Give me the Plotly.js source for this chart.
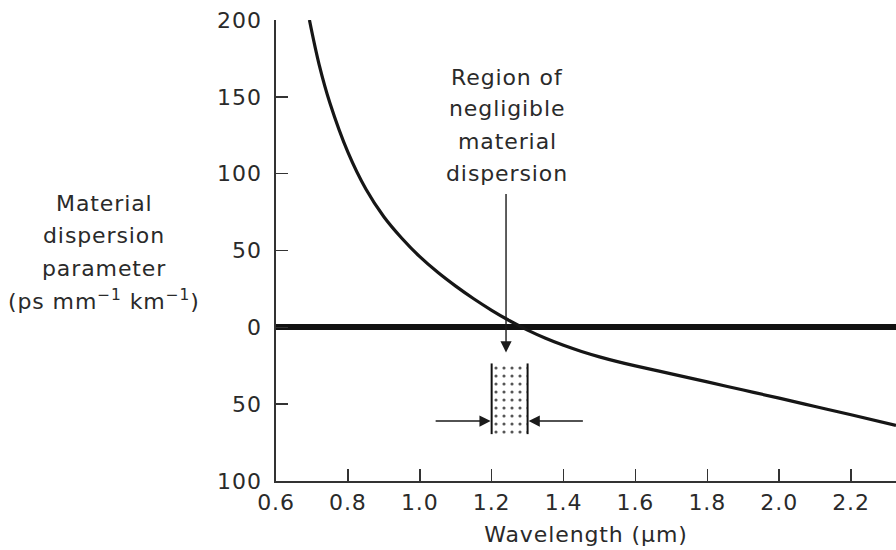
<!DOCTYPE html>
<html>
<head>
<meta charset="utf-8">
<script src="https://cdn.plot.ly/plotly-3.0.1.min.js"></script>
<style>
  html, body { margin: 0; padding: 0; background: #fff; }
  #chart { width: 896px; height: 550px; }
  text { letter-spacing: 0.9px; }
</style>
</head>
<body>
<div id="chart"></div>
<script>
// Material dispersion of silica versus wavelength
const wavelength = [0.693, 0.72, 0.75, 0.80, 0.85, 0.90, 0.95, 1.00, 1.05, 1.10, 1.15, 1.20, 1.25, 1.30, 1.35, 1.40, 1.45, 1.50, 1.55, 1.60, 1.65, 1.70, 1.80, 1.90, 2.00, 2.10, 2.20, 2.325];
const dispersion = [200, 171, 146, 114, 90, 72, 58, 46, 35.8, 26.8, 18.6, 11.1, 4.3, -1.8, -7.1, -11.7, -15.7, -19.2, -22.3, -25.1, -27.7, -30.3, -35.5, -40.8, -46.1, -51.5, -56.9, -63.8];

// Window of negligible material dispersion
const regionX = [1.2, 1.3];
const regionY = [-23.5, -69.5];
const bracketArrowFrom = [1.04, 1.458];
const bracketArrowY = -61;
const pointerX = 1.24;
const pointerFrom = 87.7;
const pointerTo = -16.4;

// Axis ticks (values below zero are labelled by magnitude)
const xTicks = [0.6, 0.8, 1.0, 1.2, 1.4, 1.6, 1.8, 2.0, 2.2];
const xTickText = ['0.6', '0.8', '1.0', '1.2', '1.4', '1.6', '1.8', '2.0', '2.2'];
const yTicks = [200, 150, 100, 50, 0, -50, -100];
const yTickText = ['200', '150', '100', '50', '0', '50', '100'];

const yTitleLines = ['Material', 'dispersion', 'parameter', '(ps mm<sup>−1</sup> km<sup>−1</sup>)'];
const noteLines = ['Region of', 'negligible', 'material', 'dispersion'];

const FONT = 'DejaVu Sans, Verdana, sans-serif';
const INK = '#2a2a2a';
const FS = 22;

const traces = [
  {
    type: 'bar',
    x: [(regionX[0] + regionX[1]) / 2],
    y: [regionY[0] - regionY[1]],
    base: [regionY[1]],
    width: [regionX[1] - regionX[0]],
    marker: {
      color: '#fff',
      line: { width: 0 },
      pattern: { shape: '.', fgcolor: '#555', bgcolor: '#fff', size: 8, solidity: 0.12 }
    },
    hoverinfo: 'skip'
  },
  {
    type: 'scatter', mode: 'lines',
    x: [regionX[0], regionX[0], null, regionX[1], regionX[1]],
    y: [regionY[0], regionY[1], null, regionY[0], regionY[1]],
    line: { color: '#111', width: 2 },
    hoverinfo: 'skip'
  },
  {
    type: 'scatter', mode: 'lines',
    x: wavelength, y: dispersion,
    line: { color: '#161616', width: 3.2, shape: 'spline', smoothing: 1 },
    hoverinfo: 'skip'
  }
];

const plotTop = 20, plotBottom = 481;
const toPaper = (py) => (plotBottom - py) / (plotBottom - plotTop);

const annotations = [];
const titleCenters = [203, 235, 268, 300];
yTitleLines.forEach((t, i) => {
  annotations.push({
    xref: 'paper', yref: 'paper', x: -0.277, y: toPaper(titleCenters[i]),
    text: t, showarrow: false, xanchor: 'center', yanchor: 'middle',
    font: { family: FONT, size: FS, color: INK }
  });
});

const noteCenters = [77, 108, 141, 173];
noteLines.forEach((t, i) => {
  annotations.push({
    xref: 'x', yref: 'paper', x: 1.244, y: toPaper(noteCenters[i]),
    text: t, showarrow: false, xanchor: 'center', yanchor: 'middle',
    font: { family: FONT, size: FS, color: INK }
  });
});

const arrowStyle = { showarrow: true, arrowhead: 2, arrowsize: 1.6, arrowwidth: 1.4, arrowcolor: '#1a1a1a',
  xref: 'x', yref: 'y', axref: 'x', ayref: 'y', text: '' };
// downward pointer
annotations.push(Object.assign({ x: pointerX, y: pointerTo, ax: pointerX, ay: pointerFrom, standoff: 0 }, arrowStyle));
// inward arrows at the edges of the window
annotations.push(Object.assign({ x: regionX[0], y: bracketArrowY, ax: bracketArrowFrom[0], ay: bracketArrowY, standoff: 1 }, arrowStyle));
annotations.push(Object.assign({ x: regionX[1], y: bracketArrowY, ax: bracketArrowFrom[1], ay: bracketArrowY, standoff: 1 }, arrowStyle));

const layout = {
  width: 896, height: 550,
  margin: { l: 276, r: 0, t: 20, b: 69, pad: 0 },
  paper_bgcolor: '#fff', plot_bgcolor: '#fff',
  showlegend: false,
  font: { family: FONT, size: FS, color: INK },
  xaxis: {
    range: [0.6, 2.325],
    tickmode: 'array', tickvals: xTicks, ticktext: xTickText,
    ticks: 'inside', ticklen: 12, tickwidth: 1.5, tickcolor: '#333',
    showline: true, linecolor: '#333', linewidth: 1.8,
    showgrid: false, zeroline: false,
    ticklabelstandoff: 1,
    tickfont: { family: FONT, size: FS, color: INK },
    title: { text: 'Wavelength (μm)', font: { family: FONT, size: FS, color: INK }, standoff: 12 }
  },
  yaxis: {
    range: [-100, 200],
    tickmode: 'array', tickvals: yTicks, ticktext: yTickText,
    ticks: 'inside', ticklen: 12, tickwidth: 1.5, tickcolor: '#333',
    showline: true, linecolor: '#333', linewidth: 1.8,
    showgrid: false,
    zeroline: true, zerolinecolor: '#111', zerolinewidth: 6,
    ticklabelstandoff: 8,
    tickfont: { family: FONT, size: FS, color: INK }
  },
  annotations: annotations
};

Plotly.newPlot('chart', traces, layout, { staticPlot: true, displayModeBar: false });
</script>
</body>
</html>
